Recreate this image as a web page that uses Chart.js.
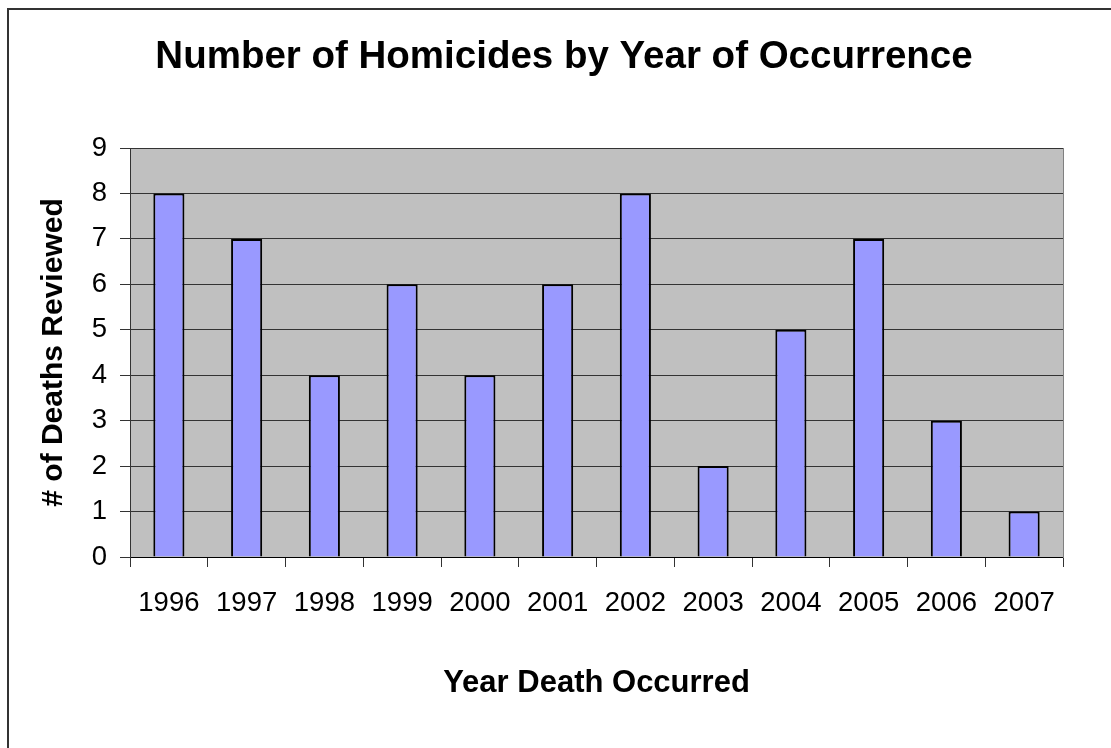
<!DOCTYPE html>
<html>
<head>
<meta charset="utf-8">
<script src="https://cdn.jsdelivr.net/npm/chart.js@4"></script>
<style>
  html, body { margin: 0; padding: 0; background: #fff; }
  #wrap { position: relative; width: 1111px; height: 748px; overflow: hidden; }
  #frame {
    position: absolute; left: 7px; top: 8px; width: 2000px; height: 2000px;
    border-left: 2px solid #333; border-top: 2px solid #333; pointer-events: none;
  }
</style>
</head>
<body>
<div id="wrap">
  <canvas id="chart" width="1111" height="748"></canvas>
  <div id="frame"></div>
</div>
<script>
// values
const years = ['1996', '1997', '1998', '1999', '2000', '2001', '2002', '2003', '2004', '2005', '2006', '2007'];
const deaths = [8, 7, 4, 6, 4, 6, 8, 2, 5, 7, 3, 1];

const chartTitle = 'Number of Homicides by Year of Occurrence';
const xTitle = 'Year Death Occurred';
const yTitle = '# of Deaths Reviewed';

const FONT = '"Liberation Sans", Arial, sans-serif';

// grey plot background like the old Excel charts
const plotBackground = {
    id: 'plotBackground',
    beforeDraw: function (chart) {
        const a = chart.chartArea;
        const ctx = chart.ctx;
        ctx.save();
        ctx.fillStyle = '#c0c0c0';
        ctx.fillRect(a.left, a.top, a.right - a.left, a.bottom - a.top);
        ctx.restore();
    }
};

new Chart(document.getElementById('chart'), {
    type: 'bar',
    data: {
        labels: years,
        datasets: [{
            data: deaths,
            backgroundColor: '#9999ff',
            borderColor: '#000000',
            borderWidth: 2,
            barPercentage: 0.4,
            categoryPercentage: 1.0
        }]
    },
    options: {
        responsive: false,
        animation: false,
        layout: { padding: { left: 17, right: 0, top: 0, bottom: 0 } },
        plugins: {
            legend: { display: false },
            tooltip: { enabled: false },
            title: {
                display: true,
                text: chartTitle,
                color: '#000',
                font: { family: FONT, size: 38.5, weight: 'bold' },
                padding: { top: 34, bottom: 67.8 }
            }
        },
        scales: {
            x: {
                offset: true,
                grid: { drawOnChartArea: false, drawTicks: true, tickLength: 10, color: '#333', offset: true },
                border: { display: true, color: '#000', width: 1 },
                ticks: { color: '#000', font: { family: FONT, size: 27.5 }, padding: 20, maxRotation: 0 },
                title: {
                    display: true, text: xTitle, color: '#000',
                    font: { family: FONT, size: 31, weight: 'bold' },
                    padding: { top: 0, bottom: 46 }
                },
                afterFit: function (scale) { scale.height = 191; }
            },
            y: {
                min: 0, max: 9,
                ticks: { stepSize: 1, color: '#000', font: { family: FONT, size: 27.5 }, padding: 13 },
                grid: { color: '#333', lineWidth: 1, tickLength: 10 },
                border: { display: true, color: '#333', width: 1 },
                title: {
                    display: true, text: yTitle, color: '#000',
                    font: { family: FONT, size: 30, weight: 'bold' },
                    padding: { top: 19, bottom: 0 }
                },
                afterFit: function (scale) { scale.width = 113; }
            },
            y2: {
                position: 'right',
                grid: { display: false },
                ticks: { display: false },
                border: { display: true, color: '#808080', width: 1 },
                afterFit: function (scale) { scale.width = 48; }
            }
        }
    },
    plugins: [plotBackground]
});
</script>
</body>
</html>
